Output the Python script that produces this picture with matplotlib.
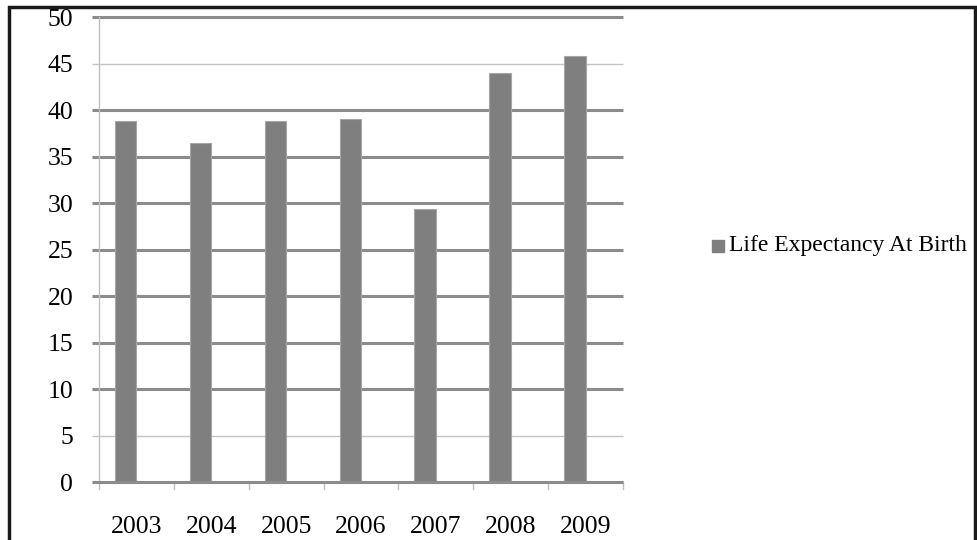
import matplotlib.pyplot as plt
from matplotlib.patches import Rectangle

years = ['2003', '2004', '2005', '2006', '2007', '2008', '2009']
life_expectancy = [38.9, 36.5, 38.9, 39.1, 29.4, 44.0, 45.8]
y_ticks = [0, 5, 10, 15, 20, 25, 30, 35, 40, 45, 50]
series_name = 'Life Expectancy At Birth'

plt.rcParams['font.family'] = ['Liberation Serif', 'DejaVu Serif']

fig = plt.figure(figsize=(9.78, 5.40), dpi=100)
ax = fig.add_axes([99/978, (540-482.3)/540, (623-99)/978, (482.3-17.3)/540])

# bar sits in the left slot of a two-slot category (gap width 150%)
w = 1/3.5
x = range(len(years))
ax.bar([i - w/2 for i in x], life_expectancy, width=w, color='#7f7f7f',
       edgecolor='#a6a6a6', linewidth=0.8, zorder=3)

ax.set_xlim(-0.5, len(years) - 0.5)
ax.set_ylim(0, 50)

# horizontal gridlines, extending a little past the y axis
for t in y_ticks:
    thin = t in (5, 45)
    ax.plot([-0.6, len(years) - 0.5], [t, t], color='#c4c4c4' if thin else '#8c8c8c',
            lw=1.0 if thin else 2.2, clip_on=False, zorder=2 if t else 4,
            solid_capstyle='butt')

for s in ['top', 'right', 'bottom']:
    ax.spines[s].set_visible(False)
ax.spines['left'].set_color('#c0c0c0')
ax.spines['left'].set_linewidth(1.0)

ax.set_yticks(y_ticks)
ax.set_yticklabels([str(t) for t in y_ticks], fontsize=18.5)
ax.tick_params(axis='y', length=0, pad=18.5)

ax.set_xticks(list(x))
ax.set_xticklabels(years, fontsize=18.5)
ax.tick_params(axis='x', length=0, pad=24)
# category boundary ticks
for b in range(len(years) + 1):
    ax.plot([b - 0.5, b - 0.5], [0, -0.7], color='#c0c0c0', lw=1.0, clip_on=False)

# legend entry
fig.add_artist(Rectangle((712/978, (540-252)/540), 12/978, 12/540,
                         transform=fig.transFigure, color='#7f7f7f'))
fig.text(729/978, (540-246)/540, series_name, fontsize=17, va='center', ha='left')

# outer frame
fig.add_artist(Rectangle((9/978, -0.05), (975-9)/978, 1.05 - 7/540,
                         transform=fig.transFigure, fill=False,
                         edgecolor='#1a1a1a', lw=2.5))

fig.savefig('out.png', dpi=100)
